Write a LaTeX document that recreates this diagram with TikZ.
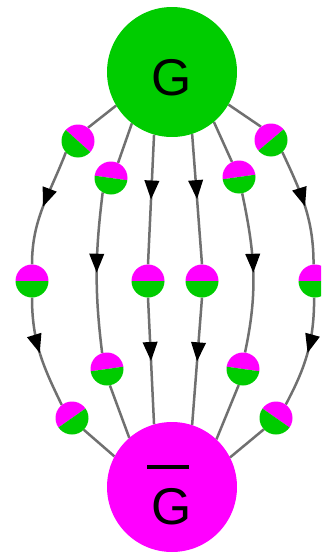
\documentclass[tikz,border=0pt]{standalone}
\usepackage{fontspec}
\setmainfont{Liberation Sans}
\usetikzlibrary{arrows.meta,decorations.markings}
\definecolor{gn}{RGB}{0,204,0}
\definecolor{mg}{RGB}{255,0,255}
\definecolor{ln}{RGB}{112,112,112}
\pgfdeclarelayer{bg}
\pgfsetlayers{bg,main}
\begin{document}
\begin{tikzpicture}[x=0.05cm,y=-0.05cm,
  big/.style={circle, inner sep=0pt, minimum size=6.5cm,
    font=\fontsize{73.5}{80}\selectfont, text depth=0pt},
  % disc split across the line: magenta half towards the angle #1+90
  half/.style={circle, inner sep=0pt, minimum size=1.65cm, path picture={
      \fill[mg] (path picture bounding box.center) -- ++(#1:1cm)
        arc[start angle=#1, end angle=#1+180, radius=1cm] -- cycle;
      \fill[gn] (path picture bounding box.center) -- ++(#1+180:1cm)
        arc[start angle=#1+180, end angle=#1+360, radius=1cm] -- cycle;}},
  wire/.style={draw=ln, line width=0.125cm},
  flow/.style={wire, postaction={decorate}, decoration={markings,
    mark=at position 0.5 with {\arrow{Triangle[width=0.72cm,length=0.95cm,color=black]}}}}
]
\useasboundingbox (0,0) rectangle (321,554);
\clip (0,0) rectangle (321,554);

% vertices
\node[big, fill=gn, text height=2.3cm] (G) at (172,72) {G};
\node[big, fill=mg, text height=3.7cm] (Gb) at (172,487)
  {\makebox[0pt][l]{\hspace{-0.25cm}\rule[2.76cm]{2.1cm}{0.2cm}}G};

% two-coloured insertions
\node[half=-42] (a1) at (78,141) {};
\node[half=0]   (a2) at (32,281) {};
\node[half=35]  (a3) at (72,418) {};
\node[half=-8]  (b1) at (111,178) {};
\node[half=8]   (b2) at (107,369) {};
\node[half=0]   (c)  at (148,281) {};
\node[half=0]   (d)  at (202,281) {};
\node[half=8]   (e1) at (239,177) {};
\node[half=-8]  (e2) at (243,369) {};
\node[half=40]  (f1) at (271,140) {};
\node[half=0]   (f2) at (315,281) {};
\node[half=-35] (f3) at (276,418) {};

\begin{pgfonlayer}{bg}
  \fill[white] (0,0) rectangle (321,554);
  % outer left line
  \draw[wire] (G.211) -- (a1.53);
  \draw[flow] (a1.223) to[out=-111, in=90] (a2.90);
  \draw[flow] (a2.-90) to[out=-90, in=116] (a3.128);
  \draw[wire] (a3.-45) -- (Gb.152);
  % inner left line
  \draw[wire] (G.232) -- (b1.65);
  \draw[flow] (b1.240) to[out=-97, in=97] (b2.107);
  \draw[wire] (b2.-80) -- (Gb.131);
  % central lines
  \draw[flow] (G.254) -- (c.90);
  \draw[flow] (c.-90) -- (Gb.106);
  \draw[flow] (G.-72) -- (d.90);
  \draw[flow] (d.-90) -- (Gb.72);
  % inner right line
  \draw[wire] (G.-50) -- (e1.115);
  \draw[flow] (e1.-79) to[out=-78, in=78] (e2.83);
  \draw[wire] (e2.-105) -- (Gb.47);
  % outer right line
  \draw[wire] (G.-30) -- (f1.127);
  \draw[flow] (f1.-47) to[out=-65, in=90] (f2.95);
  \draw[flow] (f2.-93) to[out=-90, in=62] (f3.54);
  \draw[wire] (f3.223) -- (Gb.27);
\end{pgfonlayer}
\end{tikzpicture}
\end{document}
